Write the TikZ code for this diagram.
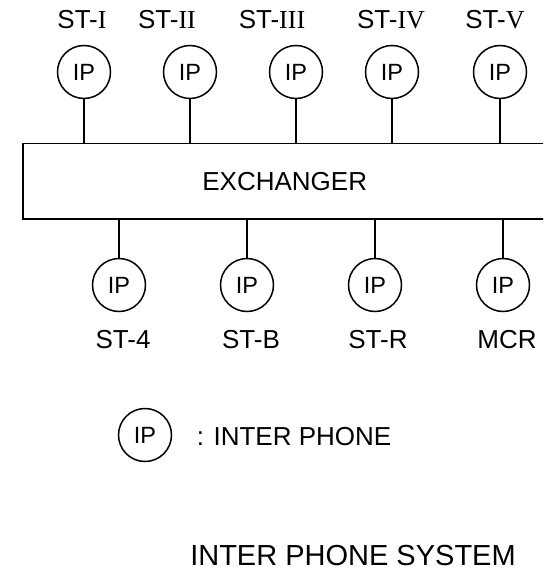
\documentclass[tikz,border=0pt]{standalone}
\usepackage{fontspec}
\setmainfont{Liberation Sans}
\newfontfamily\romfont{Liberation Serif}
\usetikzlibrary{positioning}

\begin{document}
\begin{tikzpicture}[x=1pt,y=-1pt,line width=1.5pt,
			ipcircle/.style={draw,circle,minimum size=53pt,inner sep=0pt,font=\fontsize{23.5}{28}\selectfont},
			stlabel/.style={inner sep=0pt,font=\fontsize{26}{31}\selectfont}]

			\useasboundingbox (0,0) rectangle (543,577);
			\begin{scope}
			\clip (0,0) rectangle (543,577);

			\node [draw,anchor=north west,minimum width=524pt,minimum height=75.6pt,font=\fontsize{26}{31}\selectfont] at (22,142.7) (exchanger) {EXCHANGER};

			\node [ipcircle] at (84,72)  (ipOne) {IP};
			\node [ipcircle] at (190,72) (ipTwo) {IP};
			\node [ipcircle] at (296,72) (ipThree) {IP};
			\node [ipcircle] at (392,72) (ipFour) {IP};
			\node [ipcircle] at (500,72) (ipFive) {IP};

			\node [stlabel] at (82,20)  (stOne) {ST-{\romfont I}};
			\node [stlabel] at (167,20) (stTwo) {ST-{\romfont II}};
			\node [stlabel] at (272,20) (stThree) {ST-{\romfont III}};
			\node [stlabel] at (391,20) (stFour) {ST-{\romfont IV}};
			\node [stlabel] at (495,20) (stFive) {ST-{\romfont V}};

			\draw (ipOne) -- (ipOne |- exchanger.north);
			\draw (ipTwo) -- (ipTwo |- exchanger.north);
			\draw (ipThree) -- (ipThree |- exchanger.north);
			\draw (ipFour) -- (ipFour |- exchanger.north);
			\draw (ipFive) -- (ipFive |- exchanger.north);

			\node [ipcircle] at (119,285) (ipSt4) {IP};
			\node [ipcircle] at (247,285) (ipStB) {IP};
			\node [ipcircle] at (375,285) (ipStR) {IP};
			\node [ipcircle] at (503,285) (ipMcr) {IP};

			\node [stlabel] at (123,340) (stFourLbl) {ST-4};
			\node [stlabel] at (251,340) (stBLbl) {ST-B};
			\node [stlabel] at (378,340) (stRLbl) {ST-R};
			\node [stlabel] at (507,340) (mcrLbl) {MCR};

			\draw (ipSt4) -- (ipSt4 |- exchanger.south);
			\draw (ipStB) -- (ipStB |- exchanger.south);
			\draw (ipStR) -- (ipStR |- exchanger.south);
			\draw (ipMcr) -- (ipMcr |- exchanger.south);

			\node [ipcircle] at (145,435) (ipKey) {IP};
			\node [stlabel,anchor=west] at (196,437) (ipKeyText) {: INTER PHONE};

			\node [inner sep=0pt,font=\fontsize{29}{34}\selectfont] at (353,556) (title) {INTER PHONE SYSTEM};
			\end{scope}

		\end{tikzpicture}
\end{document}
